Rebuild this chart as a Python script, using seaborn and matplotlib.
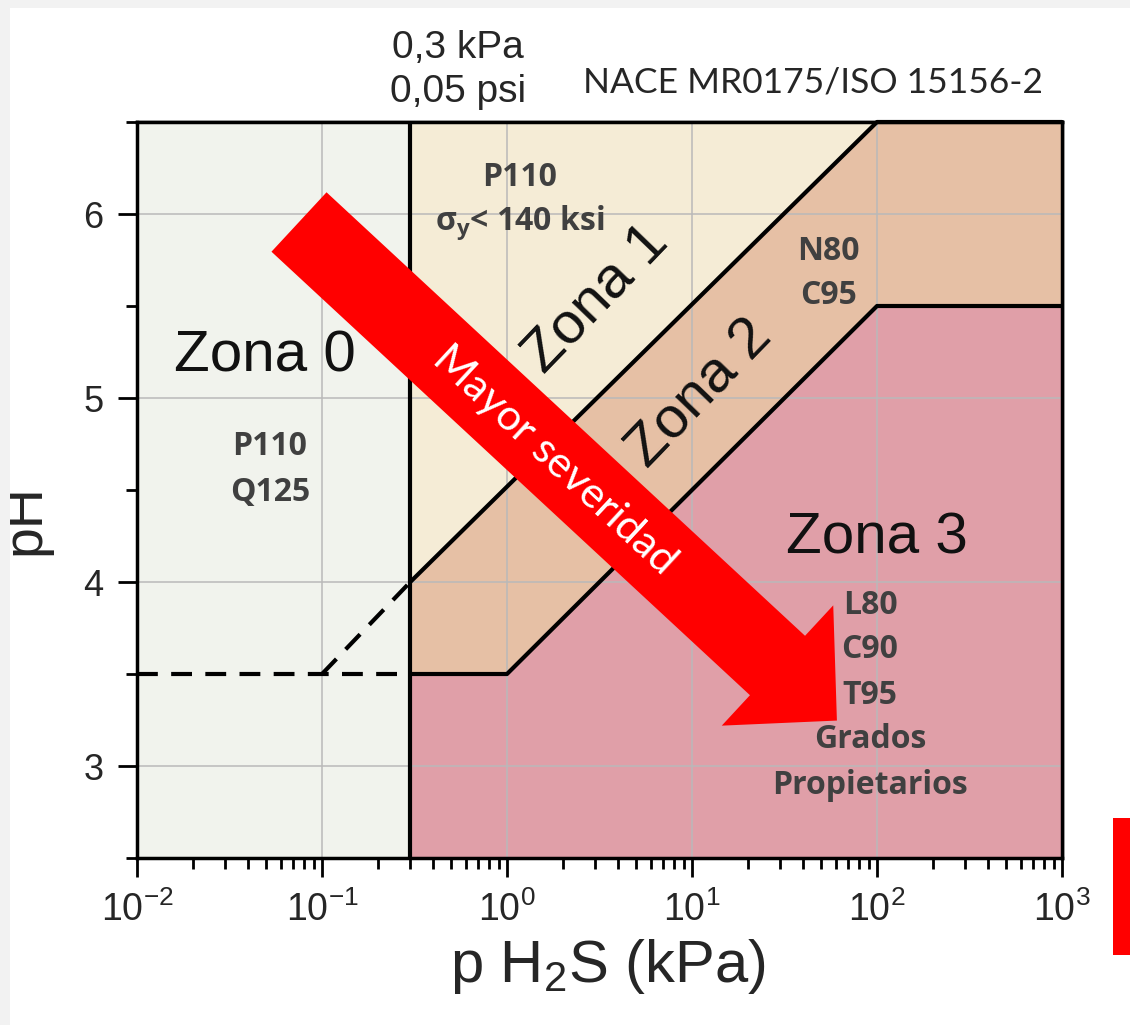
import numpy as np
import matplotlib
matplotlib.use("Agg")
import matplotlib.pyplot as plt
from matplotlib import font_manager
from matplotlib.patches import Polygon, Rectangle
from matplotlib.ticker import LogLocator, NullFormatter
import seaborn as sns

# ---------------- data ----------------
x_limits = [0.01, 1000]
ph_limits = [2.5, 6.5]
x_threshold = 0.3                      # kPa (0,05 psi)
upper_x = [0.3, 100, 1000]             # Zona 1 / Zona 2 boundary
upper_ph = [4.0, 6.5, 6.5]
lower_x = [0.3, 1, 100, 1000]          # Zona 2 / Zona 3 boundary
lower_ph = [3.5, 3.5, 5.5, 5.5]
dash_h_x = [0.01, 0.3]                 # dashed extension (horizontal)
dash_h_ph = [3.5, 3.5]
dash_d_x = [0.1, 0.3]                  # dashed extension (diagonal)
dash_d_ph = [3.5, 4.0]
x_ticks = [0.01, 0.1, 1, 10, 100, 1000]
x_tick_labels = [r"$\mathregular{10^{-2}}$", r"$\mathregular{10^{-1}}$",
                 r"$\mathregular{10^{0}}$", r"$\mathregular{10^{1}}$",
                 r"$\mathregular{10^{2}}$", r"$\mathregular{10^{3}}$"]
y_ticks = [3, 4, 5, 6]
y_minor = [2.5, 3.5, 4.5, 5.5, 6.5]
zone_labels = ["Zona 0", "Zona 1", "Zona 2", "Zona 3"]
zone_colors = ["#f1f3ed", "#f5ecd6", "#e6c0a5", "#e09fa8"]
grades_z0 = ["P110", "Q125"]
grades_z1 = ["P110", r"σ$_\mathregular{y}$< 140 ksi"]
grades_z2 = ["N80", "C95"]
grades_z3 = ["L80", "C90", "T95", "Grados", "Propietarios"]

# ---------------- style ----------------
sns.set_theme(style="white")
names = {f.name for f in font_manager.fontManager.ttflist}
narrow = "Liberation Sans Narrow" if "Liberation Sans Narrow" in names else "Liberation Sans"
calib = "Lato" if "Lato" in names else "Open Sans"
bold_font = "Open Sans" if "Open Sans" in names else calib
plt.rcParams["font.family"] = ["Liberation Sans", "DejaVu Sans"]

W, H = 1130, 1025
fig = plt.figure(figsize=(W / 100, H / 100), dpi=100)
fig.patch.set_facecolor("white")
ax = fig.add_axes([137 / W, 1 - 858 / H, 925 / W, 736 / H])


def px(x, y):
    return x / W, 1 - y / H


ax.set_xscale("log")
ax.set_xlim(*x_limits)
ax.set_ylim(*ph_limits)

# zones
ax.axvspan(x_limits[0], x_threshold, color=zone_colors[0], lw=0, zorder=0.2)
z1 = list(zip(upper_x, upper_ph)) + [(x_threshold, ph_limits[1])]
z2 = list(zip(upper_x, upper_ph)) + list(zip(lower_x, lower_ph))[::-1]
z3 = list(zip(lower_x, lower_ph)) + [(x_limits[1], ph_limits[0]), (x_threshold, ph_limits[0])]
for poly, c in zip([z1, z2, z3], zone_colors[1:]):
    ax.add_patch(Polygon(poly, closed=True, facecolor=c, edgecolor="none", zorder=0.2))

ax.set_axisbelow(True)
ax.grid(True, which="major", color="#b9b9b9", lw=1.1)

# boundaries
LW = 3.0
sns.lineplot(x=upper_x, y=upper_ph, sort=False, estimator=None, color="black", linewidth=LW,
             ax=ax, zorder=3, clip_on=False)
sns.lineplot(x=lower_x, y=lower_ph, sort=False, estimator=None, color="black", linewidth=LW,
             ax=ax, zorder=3)
sns.lineplot(x=dash_h_x, y=dash_h_ph, sort=False, estimator=None, color="black", linewidth=LW,
             ax=ax, zorder=3, linestyle=(0, (5, 3.2)))
sns.lineplot(x=dash_d_x, y=dash_d_ph, sort=False, estimator=None, color="black", linewidth=LW,
             ax=ax, zorder=3, linestyle=(0, (5, 3.2)))
ax.axvline(x_threshold, color="black", lw=LW, zorder=3)

# ticks
ax.set_xticks(x_ticks)
ax.set_xticklabels(x_tick_labels, fontsize=27, family=narrow)
ax.xaxis.set_minor_locator(LogLocator(base=10, subs=np.arange(2, 10) * 1.0, numticks=20))
ax.xaxis.set_minor_formatter(NullFormatter())
ax.set_yticks(y_ticks)
ax.set_yticklabels([str(v) for v in y_ticks], fontsize=26)
ax.set_yticks(y_minor, minor=True)
ax.tick_params(which="major", direction="out", length=14, width=2, color="black", pad=10,
               bottom=True, left=True, top=False, right=False)
ax.tick_params(which="minor", direction="out", length=8, width=2, color="black",
               bottom=True, left=True, top=False, right=False)
for s in ax.spines.values():
    s.set_color("black")
    s.set_linewidth(2.5)
    s.set_zorder(4)

secx = ax.secondary_xaxis("top")
secx.set_xticks(x_ticks)
secx.xaxis.set_minor_locator(LogLocator(base=10, subs=np.arange(2, 10) * 1.0, numticks=20))
secx.xaxis.set_minor_formatter(NullFormatter())
secx.tick_params(which="major", direction="in", length=14, width=2, labeltop=False)
secx.tick_params(which="minor", direction="in", length=8, width=2)
secx.spines["top"].set_linewidth(2.5)
secy = ax.secondary_yaxis("right")
secy.set_yticks(y_ticks)
secy.set_yticks(y_minor, minor=True)
secy.tick_params(which="major", direction="in", length=14, width=2, labelright=False)
secy.tick_params(which="minor", direction="in", length=8, width=2)
secy.spines["right"].set_linewidth(2.5)

ax.set_xlabel(r"p H$\mathregular{_2}$S (kPa)", fontsize=43, family=narrow, va="center")
ax.xaxis.set_label_coords(0.509, -0.148)
ax.set_ylabel("pH", fontsize=40, va="center")
ax.yaxis.set_label_coords(-0.121, 0.46)

# zone labels
zkw = dict(fontsize=42, color="#111111", ha="center", va="center", transform=fig.transFigure, zorder=6)
fig.text(*px(265, 356), zone_labels[0], **zkw)
fig.text(*px(596, 299), zone_labels[1], rotation=46, rotation_mode="anchor", **zkw)
fig.text(*px(700, 394), zone_labels[2], rotation=46, rotation_mode="anchor", **zkw)
fig.text(*px(877, 539), zone_labels[3], **zkw)

# grade labels
gkw = dict(fontsize=23, color="#404040", fontweight="bold", family=bold_font,
           ha="center", va="center", transform=fig.transFigure, zorder=6)
for i, g in enumerate(grades_z0):
    fig.text(*px(270, 447 + 45 * i), g, **gkw)
for i, g in enumerate(grades_z1):
    fig.text(*px(520, 178 + 45 * i), g, **gkw)
for i, g in enumerate(grades_z2):
    fig.text(*px(828, 252 + 43 * i), g, **gkw)
for i, g in enumerate(grades_z3):
    fig.text(*px(870, 605 + 45 * i), g, **gkw)

# severity arrow (decoration, in pixel space of the figure)
tail = np.array([299.0, 222.0])
base = np.array([777.5, 665.5])
d = (base - tail) / np.linalg.norm(base - tail)
perp = np.array([d[1], -d[0]])
w, hw, hl = 40.5, 82.0, 81.0
tip = base + hl * d
pts = [tail + w * perp, base + w * perp, base + hw * perp, tip,
       base - hw * perp, base - w * perp, tail - w * perp]
pts_fig = [px(p[0], p[1]) for p in pts]
fig.patches.append(Polygon(pts_fig, closed=True, facecolor="#ff0000", edgecolor="none",
                           transform=fig.transFigure, zorder=5))
ang = -np.degrees(np.arctan2(d[1], d[0]))
fig.text(*px(555, 460), "Mayor severidad", rotation=ang, rotation_mode="anchor",
         fontsize=31, color="white", family=calib, ha="center", va="center",
         transform=fig.transFigure, zorder=7)

# header annotations
fig.text(*px(458, 48), "0,3 kPa", fontsize=28, family=narrow, ha="center", va="center")
fig.text(*px(458, 92), "0,05 psi", fontsize=28, family=narrow, ha="center", va="center")
fig.text(*px(813, 82), "NACE MR0175/ISO 15156-2", fontsize=25.5, family=calib,
         ha="center", va="center")

# screenshot frame bits
fig.patches.append(Rectangle(px(0, 1025), 10 / W, 1, facecolor="#f2f2f2", edgecolor="none",
                             transform=fig.transFigure, zorder=0))
fig.patches.append(Rectangle(px(0, 8), 1, 8 / H, facecolor="#f2f2f2", edgecolor="none",
                             transform=fig.transFigure, zorder=0))
fig.patches.append(Rectangle(px(1113, 955), 17 / W, 137 / H, facecolor="#ff0000",
                             edgecolor="none", transform=fig.transFigure, zorder=0))

fig.savefig("out.png", dpi=100)
